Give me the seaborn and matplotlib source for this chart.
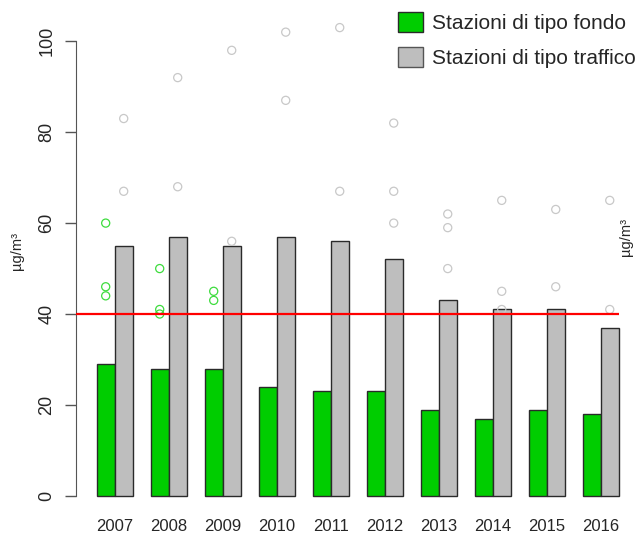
import seaborn as sns
import matplotlib.pyplot as plt
from matplotlib.patches import Patch
import pandas as pd

# Annual mean concentrations
years = ['2007', '2008', '2009', '2010', '2011', '2012', '2013', '2014', '2015', '2016']
fondo = [29, 28, 28, 24, 23, 23, 19, 17, 19, 18]
traffico = [55, 57, 55, 57, 56, 52, 43, 41, 41, 37]

# Single stations plotted as circles
fondo_out_year = ['2007', '2007', '2007', '2008', '2008', '2008', '2009', '2009']
fondo_out_val = [60, 46, 44, 50, 41, 40, 45, 43]
traffico_out_year = ['2007', '2007', '2008', '2008', '2009', '2009', '2010', '2010',
                     '2011', '2011', '2012', '2012', '2012', '2013', '2013', '2013',
                     '2014', '2014', '2014', '2015', '2015', '2016', '2016']
traffico_out_val = [83, 67, 92, 68, 98, 56, 102, 87,
                    103, 67, 82, 67, 60, 62, 59, 50,
                    65, 45, 41, 63, 46, 65, 41]

limit = 40
labels = ['Stazioni di tipo fondo', 'Stazioni di tipo traffico']

df = pd.DataFrame({
    'anno': years * 2,
    'tipo': [labels[0]] * len(years) + [labels[1]] * len(years),
    'valore': fondo + traffico,
})

sns.set_style("white")
plt.rcParams['font.family'] = ['Liberation Sans', 'DejaVu Sans']

fig = plt.figure(figsize=(6.35, 5.4), dpi=100)
ax = fig.add_axes([0.1194, 0.0463, 0.8879, 0.9548])

green = '#00cd00'
grey = '#bebebe'
sns.barplot(data=df, x='anno', y='valore', hue='tipo', hue_order=labels,
            palette=[green, grey], saturation=1, width=2 / 3, order=years,
            edgecolor='#2a2a2a', linewidth=1, legend=False, ax=ax)

# outliers at the centre of each bar
pos = {y: i for i, y in enumerate(years)}
ax.scatter([pos[y] - 1 / 6 for y in fondo_out_year], fondo_out_val,
           s=34, facecolors='none', edgecolors='#3ddc3d', linewidths=0.9, zorder=3)
ax.scatter([pos[y] + 1 / 6 for y in traffico_out_year], traffico_out_val,
           s=34, facecolors='none', edgecolors='#c8c8c8', linewidths=0.9, zorder=3)

ax.set_xlim(-0.72, len(years) - 1 + 0.72)
ax.set_ylim(-4.2, 109.2)

# limit value line
ax.hlines(limit, ax.get_xlim()[0], len(years) - 1 + 1 / 3, color='red', lw=1.6, zorder=4)

for s in ['top', 'right', 'bottom']:
    ax.spines[s].set_visible(False)
ax.spines['left'].set_bounds(0, 100)
ax.spines['left'].set_color('#555555')
ax.set_yticks(range(0, 101, 20))
ax.set_yticklabels([str(v) for v in range(0, 101, 20)], rotation=90, va='center', fontsize=13)
ax.tick_params(axis='y', length=7.7, width=1, color='#555555', pad=7, left=True)
ax.tick_params(axis='x', length=0, pad=3, labelsize=12)
ax.set_xlabel('')
ax.set_ylabel('')

fig.text(17 / 635, 1 - 251 / 540, 'µg/m³', rotation=90, ha='center', va='center', fontsize=10.5)
fig.text(626 / 635, 1 - 237 / 540, 'µg/m³', rotation=90, ha='center', va='center', fontsize=10.5)

handles = [Patch(facecolor=green, edgecolor='#2a2a2a'), Patch(facecolor=grey, edgecolor='#555555')]
fig.legend(handles, labels, loc='upper left', bbox_to_anchor=(398 / 635, 1 - 12 / 540),
           frameon=False, fontsize=15, borderpad=0, borderaxespad=0,
           handlelength=1.2, handleheight=1.1, labelspacing=0.67, handletextpad=0.42)

plt.savefig('out.png', dpi=100)
